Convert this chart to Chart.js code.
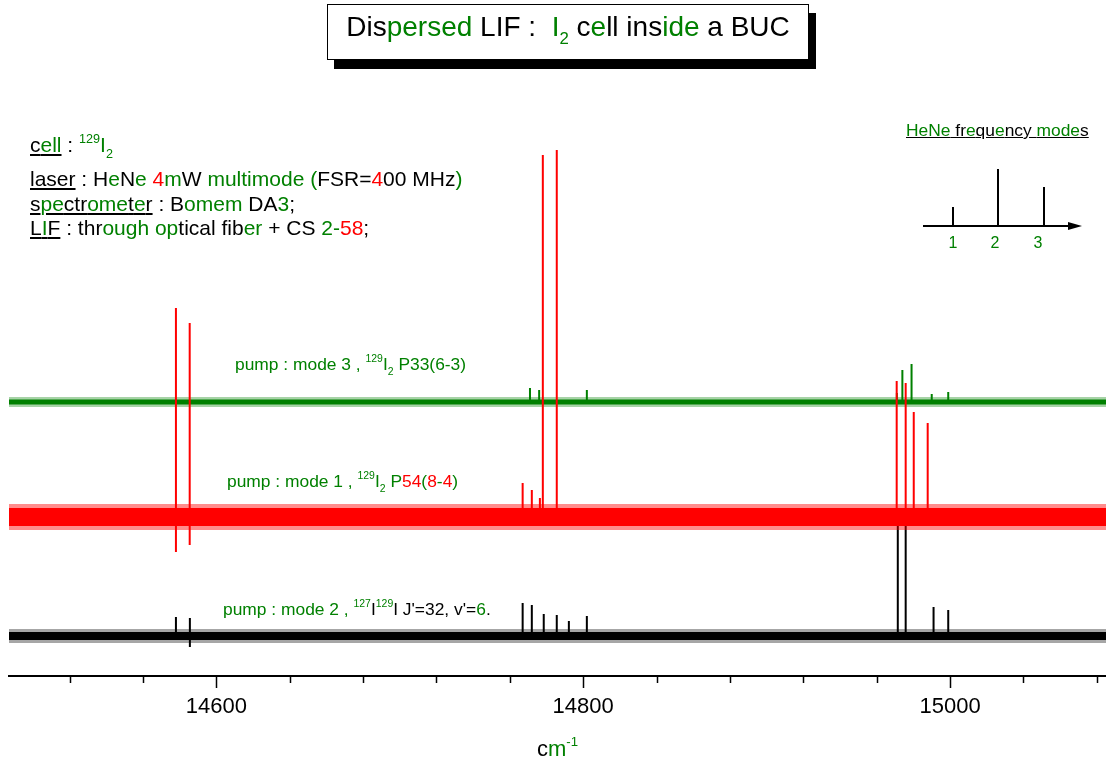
<!DOCTYPE html>
<html>
<head>
<meta charset="utf-8">
<script src="https://cdn.jsdelivr.net/npm/chart.js@4.4.1/dist/chart.umd.min.js"></script>
<style>
  body { margin: 0; background: #fff; font-family: "Liberation Sans", Arial, sans-serif; }
  #wrap { position: relative; width: 1106px; height: 763px; overflow: hidden; }
  #chart { position: absolute; left: 0; top: 0; }
  .t { position: absolute; white-space: nowrap; line-height: 1; color: #000; }
  .g { color: #008000; }
  .r { color: #ff0000; }
  .u { text-decoration: underline; }
  .sup { font-size: 0.6em; position: relative; top: -0.75em; }
  .sub { font-size: 0.6em; position: relative; top: 0.45em; }
  #title {
    position: absolute; left: 327px; top: 4px; width: 482px; height: 56px;
    box-sizing: border-box; border: 1.5px solid #000; background: #fff;
    box-shadow: 7px 9px 0 #000; text-align: center;
    font-size: 28px; line-height: 28px; padding-top: 8px; white-space: nowrap;
  }
  #inset { position: absolute; left: 0; top: 0; }
</style>
</head>
<body>
<div id="wrap">
  <canvas id="chart" width="1106" height="763"></canvas>

  <div id="title">Dis<span class="g">persed</span> LIF :&nbsp; <span class="g">I<span class="sub">2</span></span> c<span class="g">e</span>ll ins<span class="g">ide</span> a BUC</div>

  <!-- experiment notes -->
  <div class="t" style="left:30px; top:134px; font-size:21px;"><span class="u">c<span class="g">ell</span></span> : <span class="g"><span class="sup">129</span>I<span class="sub">2</span></span></div>
  <div class="t" style="left:30px; top:168px; font-size:21px;"><span class="u">laser</span> : H<span class="g">e</span>N<span class="g">e</span> <span class="r">4</span><span class="g">m</span>W <span class="g">multimode (</span>FSR=<span class="r">4</span>00 MHz<span class="g">)</span></div>
  <div class="t" style="left:30px; top:193px; font-size:21px;"><span class="u">s<span class="g">pe</span>ctr<span class="g">ome</span>t<span class="g">e</span>r</span> : B<span class="g">omem</span> DA<span class="g">3</span>;</div>
  <div class="t" style="left:30px; top:217px; font-size:21px;"><span class="u">L<span class="g">I</span>F</span> : thr<span class="g">ough</span> <span class="g">op</span>tical fib<span class="g">er</span> + CS <span class="g">2-</span><span class="r">58</span>;</div>

  <!-- HeNe mode sketch -->
  <div class="t u" style="left:906px; top:122px; font-size:17.4px;"><span class="g">HeNe</span> fr<span class="g">e</span>qu<span class="g">e</span>ncy <span class="g">mode</span>s</div>
  <svg id="inset" width="1106" height="763">
    <line x1="923" y1="226" x2="1070" y2="226" stroke="#000" stroke-width="2"/>
    <polygon points="1068,222 1082,226 1068,230" fill="#000"/>
    <line x1="953" y1="207" x2="953" y2="226" stroke="#000" stroke-width="2"/>
    <line x1="998" y1="169" x2="998" y2="226" stroke="#000" stroke-width="2"/>
    <line x1="1044" y1="187" x2="1044" y2="226" stroke="#000" stroke-width="2"/>
    <text x="953" y="248" fill="#008000" font-size="16" text-anchor="middle" font-family="Liberation Sans, Arial">1</text>
    <text x="995" y="248" fill="#008000" font-size="16" text-anchor="middle" font-family="Liberation Sans, Arial">2</text>
    <text x="1038" y="248" fill="#008000" font-size="16" text-anchor="middle" font-family="Liberation Sans, Arial">3</text>
  </svg>

  <!-- trace labels -->
  <div class="t g" style="left:235px; top:356px; font-size:17.4px;">pump : mode 3 , <span class="sup">129</span>I<span class="sub">2</span> P33(6-3)</div>
  <div class="t g" style="left:227px; top:473px; font-size:17.4px;">pump : mode 1 , <span class="sup">129</span>I<span class="sub">2</span> P<span class="r">54</span>(<span class="r">8</span>-<span class="r">4</span>)</div>
  <div class="t g" style="left:223px; top:601px; font-size:17.4px;">pump : mode 2 , <span class="sup">127</span><span style="color:#000">I</span><span class="sup">129</span><span style="color:#000">I J'=32, v'=</span>6<span style="color:#000">.</span></div>

  <div class="t" style="left:537px; top:738px; font-size:22px;">c<span class="g">m<span class="sup">-1</span></span></div>
</div>

<script>
// x range (cm-1)
const xMin = 14487;
const xMax = 15085;

// trace offsets and noise level (arb. units)
const greenBase = 274;
const redBase = 159;
const blackBase = 40;
const greenNoise = [2.5, 5];
const redNoise = [9, 13];
const blackNoise = [4, 7];

// pump mode 3 (green)
const greenPeakX = [14771, 14776, 14802, 14971, 14974, 14979, 14990, 14999];
const greenPeakUp = [14, 12, 12, 9, 32, 38, 8, 10];

// pump mode 1 (red)
const redPeakX = [14578, 14585.5, 14767, 14772, 14776.4, 14778, 14785.6, 14970.9, 14975.8, 14980.2, 14987.8];
const redPeakUp = [209, 194, 34, 27, 19, 362, 367, 136, 134, 105, 94];
const redPeakDown = [35, 28, 0, 0, 0, 0, 0, 0, 0, 0, 0];

// pump mode 2 (black)
const blackPeakX = [14578, 14585.6, 14767, 14772, 14778.5, 14785.6, 14792.2, 14802, 14971.5, 14975.8, 14991, 14999];
const blackPeakUp = [19, 18, 33, 31, 22, 21, 15, 20, 115, 115, 29, 26];
const blackPeakDown = [0, 11, 0, 0, 0, 0, 0, 0, 0, 0, 0, 0];

const GREEN = "#008000";
const RED = "#ff0000";
const BLACK = "#000000";

function bandSet(base, amp, color, order) {
    return {
        data: [{ x: xMin, y: base + amp }, { x: xMax, y: base + amp }],
        fill: { value: base - amp },
        backgroundColor: color,
        borderWidth: 0,
        pointRadius: 0,
        order: order,
    };
}

function peakSet(base, xs, up, down, color, width, order) {
    const pts = [];
    xs.forEach((x, i) => {
        pts.push({ x: x, y: base });
        pts.push({ x: x, y: base + up[i] });
        pts.push({ x: x, y: base - (down ? down[i] : 0) });
        pts.push({ x: x, y: base });
        pts.push({ x: x, y: null });
    });
    return {
        data: pts,
        borderColor: color,
        borderWidth: width,
        pointRadius: 0,
        fill: false,
        spanGaps: false,
        order: order,
    };
}

const datasets = [
    bandSet(blackBase, blackNoise[1], "rgba(0,0,0,0.35)", 62),
    bandSet(blackBase, blackNoise[0], BLACK, 61),
    peakSet(blackBase, blackPeakX, blackPeakUp, blackPeakDown, BLACK, 2, 50),
    bandSet(redBase, redNoise[1], "rgba(255,0,0,0.45)", 42),
    bandSet(redBase, redNoise[0], RED, 41),
    bandSet(greenBase, greenNoise[1], "rgba(0,128,0,0.35)", 36),
    bandSet(greenBase, greenNoise[0], GREEN, 35),
    peakSet(greenBase, greenPeakX, greenPeakUp, null, GREEN, 2, 30),
    peakSet(redBase, redPeakX, redPeakUp, redPeakDown, RED, 2, 10),
];

// minor ticks every 40, long ticks on the labelled ones
const tickMarks = {
    id: "tickMarks",
    afterDraw(chart) {
        const sc = chart.scales.x;
        const c = chart.ctx;
        const y0 = chart.chartArea.bottom;
        c.save();
        c.strokeStyle = "#000";
        c.lineWidth = 1.5;
        sc.ticks.forEach((t) => {
            const px = Math.round(sc.getPixelForValue(t.value)) + 0.5;
            const len = t.value % 200 === 0 ? 12 : 7;
            c.beginPath();
            c.moveTo(px, y0);
            c.lineTo(px, y0 + len);
            c.stroke();
        });
        c.restore();
    },
};

new Chart(document.getElementById("chart"), {
    type: "line",
    data: { datasets },
    options: {
        responsive: false,
        animation: false,
        layout: { padding: { left: 9, right: 0, top: 0, bottom: 0 } },
        plugins: { legend: { display: false }, tooltip: { enabled: false } },
        elements: { line: { tension: 0 } },
        scales: {
            x: {
                type: "linear",
                min: xMin,
                max: xMax,
                grid: { display: false, drawTicks: false },
                border: { display: true, color: "#000", width: 2 },
                ticks: {
                    stepSize: 40,
                    includeBounds: false,
                    autoSkip: false,
                    maxRotation: 0,
                    padding: 18,
                    color: "#000",
                    font: { family: "Liberation Sans", size: 22 },
                    callback: (v) => (v % 200 === 0 ? String(v) : ""),
                },
                afterFit: (s) => {
                    s.height = 87;
                    s.paddingLeft = 0;
                    s.paddingRight = 0;
                },
            },
            y: { display: false, min: 0, max: 676 },
        },
    },
    plugins: [tickMarks],
});
</script>
</body>
</html>
